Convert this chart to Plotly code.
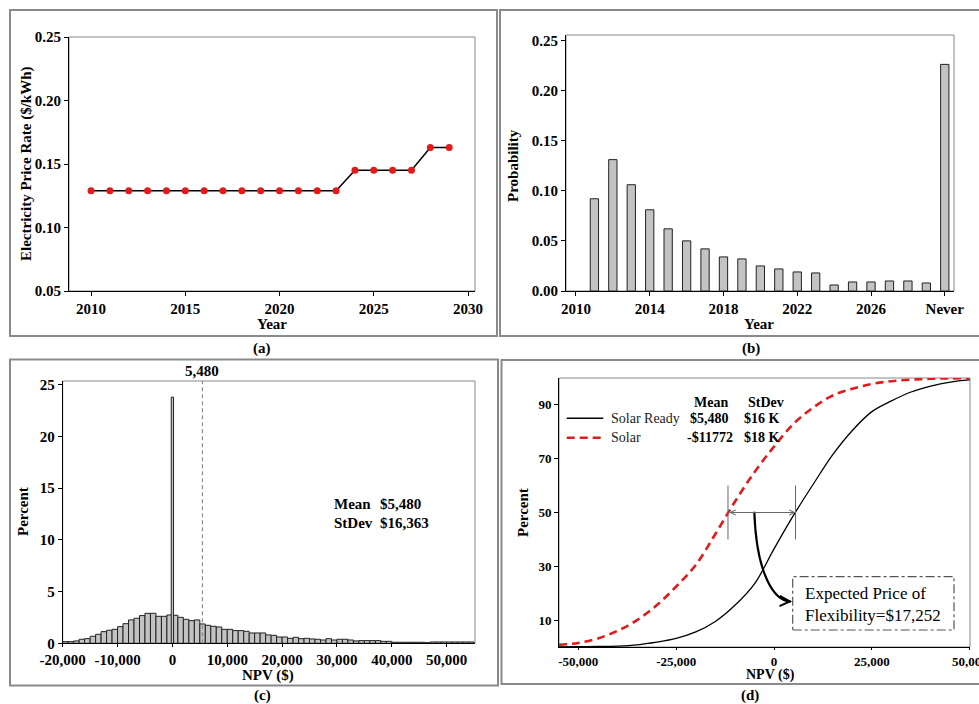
import plotly.graph_objects as go

W, H = 979, 704
SERIF = "Liberation Serif"

# ---------------- (a) electricity price rate ----------------
YEARS_A = [2010, 2011, 2012, 2013, 2014, 2015, 2016, 2017, 2018, 2019,
           2020, 2021, 2022, 2023, 2024, 2025, 2026, 2027, 2028, 2029]
PRICE_A = [0.129, 0.129, 0.129, 0.129, 0.129, 0.129, 0.129, 0.129, 0.129, 0.129,
           0.129, 0.129, 0.129, 0.129, 0.145, 0.145, 0.145, 0.145, 0.163, 0.163]
A_XTICKS = [2010, 2015, 2020, 2025, 2030]
A_YTICKS = [0.05, 0.10, 0.15, 0.20, 0.25]

# ---------------- (b) probability of adoption year ----------------
YEARS_B = [2011, 2012, 2013, 2014, 2015, 2016, 2017, 2018, 2019, 2020,
           2021, 2022, 2023, 2024, 2025, 2026, 2027, 2028, 2029]
PROB_B = [0.092, 0.131, 0.106, 0.081, 0.062, 0.050, 0.042, 0.034, 0.032, 0.025,
          0.022, 0.019, 0.018, 0.006, 0.009, 0.009, 0.010, 0.010, 0.008]
NEVER_POS = 2030
NEVER_PROB = 0.226
B_TICKVALS = [2010, 2014, 2018, 2022, 2026, 2030]
B_TICKTEXT = ["2010", "2014", "2018", "2022", "2026", "Never"]
B_YTICKS = [0.00, 0.05, 0.10, 0.15, 0.20, 0.25]

# ---------------- (c) NPV histogram ----------------
NPV_BIN_CENTERS = list(range(-19500, 55000, 1000))
HIST_PCT = [0.16, 0.16, 0.23, 0.39, 0.45, 0.68, 0.87, 1.13, 1.26, 1.35,
            1.61, 1.90, 2.26, 2.42, 2.68, 2.90, 2.90, 2.61, 2.61, 2.74,
            2.71, 2.51, 2.32, 2.19, 2.26, 1.87, 1.74, 1.64, 1.58, 1.35,
            1.35, 1.23, 1.23, 1.16, 1.00, 1.00, 1.00, 0.81, 0.77, 0.61,
            0.61, 0.48, 0.58, 0.45, 0.48, 0.42, 0.39, 0.32, 0.45, 0.32,
            0.39, 0.39, 0.32, 0.23, 0.26, 0.26, 0.26, 0.26, 0.19, 0.19,
            0.10, 0.10, 0.10, 0.10, 0.10, 0.10, 0.06, 0.13, 0.13, 0.13,
            0.13, 0.13, 0.13, 0.13, 0.13]
SPIKE_NPV = [0]
SPIKE_PCT = [23.8]
MEAN_C = 5480
C_XTICKS = [-20000, -10000, 0, 10000, 20000, 30000, 40000, 50000]
C_XTEXT = ["-20,000", "-10,000", "0", "10,000", "20,000", "30,000", "40,000", "50,000"]
C_YTICKS = [0, 5, 10, 15, 20, 25]

# ---------------- (d) cumulative NPV curves ----------------
NPV_GRID = [-55000, -50000, -45000, -40000, -35000, -30000, -25000, -20000,
            -15000, -10000, -5000, 0, 5000, 10000, 15000, 20000, 25000,
            30000, 35000, 40000, 45000, 50000]
SOLAR_READY_CDF = [0.05, 0.1, 0.2, 0.35, 0.8, 1.8, 3.2, 5.6, 9.5, 15.5, 23.5,
                   36.5, 49.0, 60.5, 71.5, 80.5, 87.5, 91.5, 94.8, 97.0, 98.5, 99.3]
SOLAR_CDF = [0.8, 1.5, 3.2, 6.0, 10.0, 15.5, 22.5, 30.5, 42.0, 54.0, 65.0,
             74.5, 83.0, 89.0, 93.5, 96.0, 97.8, 98.8, 99.4, 99.7, 99.85, 99.95]
MEAN_READY = 5480
MEAN_SOLAR = -11772
D_XTICKS = [-50000, -25000, 0, 25000, 50000]
D_XTEXT = ["-50,000", "-25,000", "0", "25,000", "50,000"]
D_YTICKS = [10, 30, 50, 70, 90]


def px(x):
    return x / W


def py(y):
    return 1 - y / H


fig = go.Figure()

fig.add_trace(go.Scatter(
    x=YEARS_A, y=PRICE_A, mode="lines+markers", name="Price",
    line=dict(color="black", width=1.5),
    marker=dict(color="#e41a1a", size=7),
    xaxis="x", yaxis="y", showlegend=False))

fig.add_trace(go.Bar(
    x=YEARS_B + [NEVER_POS], y=PROB_B + [NEVER_PROB], width=0.45, name="Probability",
    marker=dict(color="#c3c3c3", line=dict(color="#222", width=1)),
    xaxis="x2", yaxis="y2", showlegend=False))

fig.add_trace(go.Bar(
    x=NPV_BIN_CENTERS, y=HIST_PCT, width=1000, name="NPV",
    marker=dict(color="#c3c3c3", line=dict(color="#222", width=1)),
    xaxis="x3", yaxis="y3", showlegend=False))
fig.add_trace(go.Bar(
    x=SPIKE_NPV, y=SPIKE_PCT, width=420, name="NPV = 0",
    marker=dict(color="#c3c3c3", line=dict(color="#222", width=1)),
    xaxis="x3", yaxis="y3", showlegend=False))

fig.add_trace(go.Scatter(
    x=NPV_GRID, y=SOLAR_READY_CDF, mode="lines", name="Solar Ready",
    line=dict(color="black", width=1.3, shape="spline"),
    xaxis="x4", yaxis="y4", showlegend=False))
fig.add_trace(go.Scatter(
    x=NPV_GRID, y=SOLAR_CDF, mode="lines", name="Solar",
    line=dict(color="#e01b1b", width=2.6, dash="8px,5px", shape="spline"),
    xaxis="x4", yaxis="y4", showlegend=False))

tickfont = dict(family=SERIF, size=15, color="black", weight="bold")
tickfont_d = dict(family=SERIF, size=13, color="black", weight="bold")


def ax(domain, rng, anchor, font=tickfont, **kw):
    d = dict(domain=domain, range=rng, anchor=anchor, showgrid=False, zeroline=False,
             showline=True, linecolor="black", linewidth=1, mirror=False,
             ticks="outside", ticklen=4, tickcolor="black", tickfont=font,
             automargin=False)
    d.update(kw)
    return d


fig.update_layout(
    width=W, height=H, margin=dict(l=0, r=0, t=0, b=0, pad=0, autoexpand=False),
    paper_bgcolor="white", plot_bgcolor="white", barmode="overlay",
    xaxis=ax([px(69), px(475)], [2008.83, 2030.37], "y", tickvals=A_XTICKS),
    yaxis=ax([py(291), py(37)], [0.05, 0.25], "x", tickvals=A_YTICKS, tickformat=".2f"),
    xaxis2=ax([px(566), px(954)], [2009.46, 2030.5], "y2", tickvals=B_TICKVALS, ticktext=B_TICKTEXT),
    yaxis2=ax([py(291), py(35)], [0, 0.2553], "x2", tickvals=B_YTICKS, tickformat=".2f"),
    xaxis3=ax([px(62.7), px(475)], [-20000, 55170], "y3", tickvals=C_XTICKS, ticktext=C_XTEXT, ticklen=3),
    yaxis3=ax([py(643.3), py(381)], [0, 25.36], "x3", tickvals=C_YTICKS),
    xaxis4=ax([px(559), px(970)], [-54940, 50060], "y4", font=tickfont_d, tickvals=D_XTICKS,
              ticktext=D_XTEXT, ticklen=2, ticklabeloverflow="allow"),
    yaxis4=ax([py(647), py(378)], [0, 100], "x4", font=tickfont_d, tickvals=D_YTICKS),
)

shapes = []
FRAME = "#8a8a8a"
for (x0, y0, x1, y1) in [(10, 10, 497, 336), (500, 10, 985, 336),
                         (10, 359.5, 498, 685.5), (501.5, 360, 985, 684)]:
    shapes.append(dict(type="rect", xref="paper", yref="paper",
                       x0=px(x0), x1=px(x1), y0=py(y1), y1=py(y0),
                       line=dict(color=FRAME, width=2)))
# gray plot borders
for xa, ya in [("x", "y"), ("x2", "y2"), ("x3", "y3"), ("x4", "y4")]:
    shapes.append(dict(type="rect", xref=xa + " domain", yref=ya + " domain",
                       x0=0, x1=1, y0=0, y1=1, layer="below",
                       line=dict(color="#888", width=1)))
# (c) mean line
shapes.append(dict(type="line", xref="x3", yref="y3 domain", x0=MEAN_C, x1=MEAN_C,
                   y0=0, y1=1, line=dict(color="#8c8c8c", width=1.2, dash="4px,3px")))
# (d) mean markers
for m in (MEAN_SOLAR, MEAN_READY):
    shapes.append(dict(type="line", xref="x4", yref="y4", x0=m, x1=m, y0=40, y1=60,
                       line=dict(color="#666", width=1)))
# (d) curved arrow
ARROW_PATH = [(-5040, 50.3), (-4500, 27), (0, 17), (4300, 16.9)]
p = ARROW_PATH
shapes.append(dict(type="path", xref="x4", yref="y4",
                   path=f"M {p[0][0]},{p[0][1]} C {p[1][0]},{p[1][1]} {p[2][0]},{p[2][1]} {p[3][0]},{p[3][1]}",
                   line=dict(color="black", width=2.2)))
# (d) legend samples
shapes.append(dict(type="line", xref="paper", yref="paper", x0=px(566.7), x1=px(603.3),
                   y0=py(418.3), y1=py(418.3), line=dict(color="black", width=1.5)))
shapes.append(dict(type="line", xref="paper", yref="paper", x0=px(566.7), x1=px(603.3),
                   y0=py(437.7), y1=py(437.7), line=dict(color="#e01b1b", width=2.6, dash="8px,5px")))
# (d) dash-dot box
shapes.append(dict(type="rect", xref="paper", yref="paper", x0=px(792.7), x1=px(954),
                   y0=py(630), y1=py(576.7), line=dict(color="#555", width=1.2, dash="dashdot")))

fig.update_layout(shapes=shapes)

ann = []


def txt(text, x, y, size=15, bold=True, xanchor="center", angle=0, color="black"):
    ann.append(dict(text=text, x=px(x), y=py(y), xref="paper", yref="paper",
                    xanchor=xanchor, yanchor="middle", showarrow=False, textangle=angle,
                    font=dict(family=SERIF, size=size, color=color,
                              weight="bold" if bold else "normal")))


txt("Year", 272, 324)
txt("Electricity Price Rate ($/kWh)", 27, 164, angle=-90)
txt("Year", 759, 324)
txt("Probability", 513, 166, angle=-90)
txt("Percent", 23, 512, angle=-90)
txt("NPV ($)", 268, 675)
txt("Percent", 523, 513, angle=-90)
txt("NPV ($)", 770, 675, size=14)
txt("(a)", 262, 348)
txt("(b)", 751, 348)
txt("(c)", 262, 695)
txt("(d)", 750, 695)

# (c) stats
txt("Mean", 332, 504, xanchor="left")
txt("$5,480", 378, 504, xanchor="left")
txt("StDev", 332, 523, xanchor="left")
txt("$16,363", 378, 523, xanchor="left")
ann.append(dict(text="5,480", x=MEAN_C, xref="x3", y=py(371), yref="paper",
                showarrow=False, xanchor="center", yanchor="middle",
                font=dict(family=SERIF, size=15, color="black", weight="bold")))

# (d) legend table
txt("Mean", 711, 403, size=14)
txt("StDev", 766, 403, size=14)
txt("Solar Ready", 609, 418, size=14, bold=False, xanchor="left", color="#222")
txt("Solar", 609, 437, size=14, bold=False, xanchor="left", color="#222")
txt("$5,480", 688, 418, size=14, xanchor="left")
txt("$16 K", 742, 418, size=14, xanchor="left")
txt("-$11772", 685, 437.5, size=14, xanchor="left")
txt("$18 K", 742, 437.5, size=14, xanchor="left")
txt("Expected Price of", 803, 593, size=17, bold=False, xanchor="left")
txt("Flexibility=$17,252", 803, 615, size=17, bold=False, xanchor="left")

# (d) arrows
ann.append(dict(text="", x=MEAN_READY, y=50, ax=MEAN_SOLAR, ay=50,
                xref="x4", yref="y4", axref="x4", ayref="y4", showarrow=True,
                arrowside="end+start", arrowhead=5, startarrowhead=5,
                arrowsize=1, startarrowsize=1, arrowwidth=1, arrowcolor="#666"))
ann.append(dict(text="", x=4600, y=16.9, ax=3000, ay=17.0,
                xref="x4", yref="y4", axref="x4", ayref="y4", showarrow=True,
                arrowhead=5, arrowsize=1, arrowwidth=2, arrowcolor="black"))

fig.update_layout(annotations=ann)

fig.write_html("out.html", config={"displayModeBar": False},
               post_script="document.body.style.margin='0px';"
                           "document.body.style.overflow='hidden';")
